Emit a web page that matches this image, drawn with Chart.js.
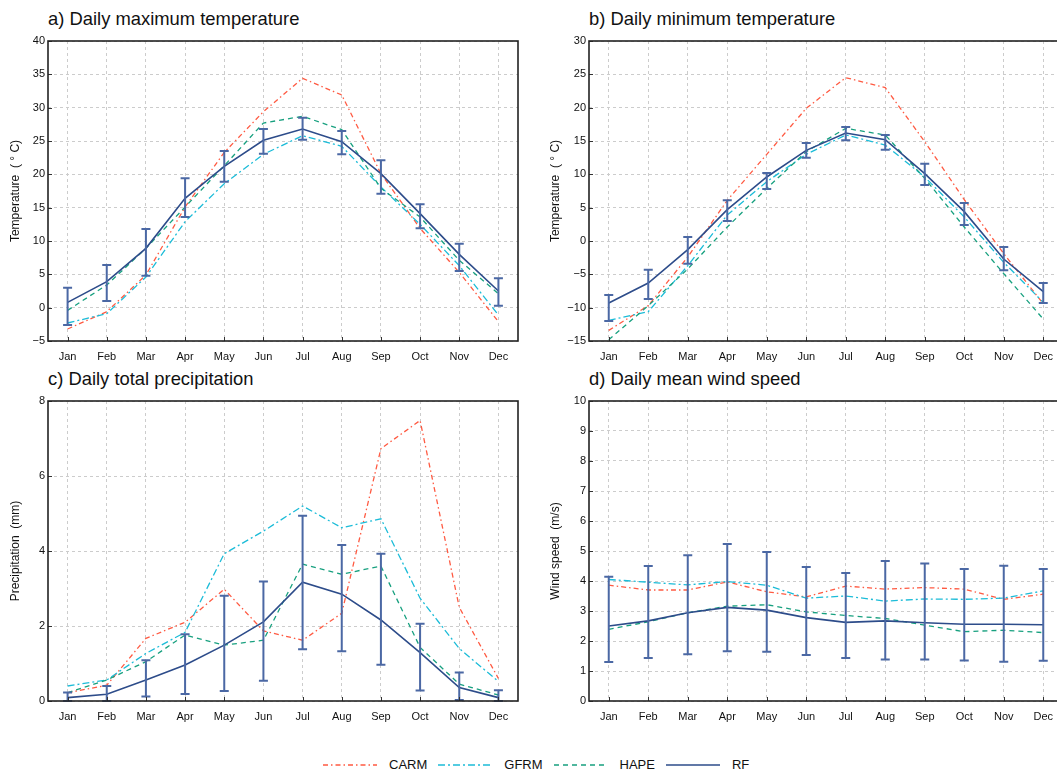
<!DOCTYPE html>
<html>
<head>
<meta charset="utf-8">
<script src="https://cdn.jsdelivr.net/npm/chart.js@4/dist/chart.umd.min.js"></script>
<style>
  body { margin: 0; background: #fff; overflow: hidden; width: 1057px; height: 772px; position: relative;
         font-family: "Liberation Sans", Arial, sans-serif; color: #111; }
  canvas { position: absolute; }
  .ttl { position: absolute; font-size: 18.4px; line-height: 20px; white-space: nowrap; }
  #legend { position: absolute; left: 323px; top: 757px; display: flex; align-items: center; font-size: 13px; }
  #legend .it { display: flex; align-items: center; margin-right: 11px; }
  #legend svg { margin-right: 12px; }
</style>
</head>
<body>
<div class="ttl" style="left:48px;top:9px">a) Daily maximum temperature</div>
<div class="ttl" style="left:589px;top:9px">b) Daily minimum temperature</div>
<div class="ttl" style="left:48px;top:369px">c) Daily total precipitation</div>
<div class="ttl" style="left:589px;top:369px">d) Daily mean wind speed</div>
<canvas id="cA" width="530" height="370" style="left:0;top:0"></canvas>
<canvas id="cB" width="537" height="370" style="left:530px;top:0"></canvas>
<canvas id="cC" width="530" height="360" style="left:0;top:370px"></canvas>
<canvas id="cD" width="537" height="360" style="left:530px;top:370px"></canvas>
<div id="legend"></div>
<script>
const months = ['Jan', 'Feb', 'Mar', 'Apr', 'May', 'Jun', 'Jul', 'Aug', 'Sep', 'Oct', 'Nov', 'Dec'];

// a) daily maximum temperature
const tmaxCARM = [-3.2, -0.6, 4.9, 15.1, 23.3, 29.4, 34.4, 31.9, 20.1, 11.9, 5.3, -2.1];
const tmaxGFRM = [-2.3, -0.9, 4.6, 12.9, 18.6, 23.0, 25.8, 24.2, 18.1, 12.5, 6.3, -1.1];
const tmaxHAPE = [-0.4, 3.4, 8.9, 15.1, 21.3, 27.7, 28.7, 26.7, 17.9, 13.6, 7.1, 2.1];
const tmaxRF   = [0.8, 3.9, 8.9, 16.4, 21.2, 25.1, 26.8, 24.9, 20.1, 14.1, 8.0, 2.5];
const tmaxRFlo = [-2.6, 1.0, 4.8, 13.6, 18.9, 23.1, 25.2, 23.0, 17.1, 11.9, 5.5, 0.3];
const tmaxRFhi = [3.0, 6.4, 11.8, 19.4, 23.5, 26.8, 28.5, 26.5, 22.1, 15.5, 9.6, 4.4];

// b) daily minimum temperature
const tminCARM = [-13.4, -9.7, -2.4, 6.1, 13.0, 19.9, 24.5, 23.0, 14.9, 6.2, -1.9, -9.4];
const tminGFRM = [-11.9, -10.6, -3.7, 3.9, 8.9, 13.0, 15.9, 14.4, 9.6, 3.6, -3.2, -9.2];
const tminHAPE = [-14.8, -9.7, -4.2, 2.1, 7.9, 13.4, 16.9, 15.9, 9.4, 2.1, -4.9, -11.7];
const tminRF   = [-9.3, -6.3, -1.3, 4.7, 9.6, 13.6, 16.2, 15.2, 10.1, 4.4, -2.7, -7.6];
const tminRFlo = [-12.0, -8.7, -3.4, 3.0, 7.8, 12.5, 15.1, 13.7, 8.4, 2.4, -4.4, -9.3];
const tminRFhi = [-8.1, -4.3, 0.6, 6.1, 10.2, 14.7, 17.1, 15.9, 11.6, 5.7, -0.9, -6.3];

// c) daily total precipitation
const precCARM = [0.22, 0.42, 1.67, 2.1, 2.98, 1.87, 1.62, 2.34, 6.73, 7.48, 2.5, 0.6];
const precGFRM = [0.4, 0.56, 1.27, 1.83, 3.93, 4.53, 5.2, 4.62, 4.86, 2.74, 1.4, 0.52];
const precHAPE = [0.22, 0.56, 1.05, 1.76, 1.49, 1.62, 3.65, 3.38, 3.6, 1.43, 0.45, 0.16];
const precRF   = [0.09, 0.18, 0.56, 0.96, 1.49, 2.11, 3.17, 2.85, 2.16, 1.29, 0.36, 0.09];
const precRFlo = [0.0, 0.0, 0.12, 0.19, 0.27, 0.54, 1.38, 1.33, 0.97, 0.28, 0.03, 0.0];
const precRFhi = [0.23, 0.4, 1.09, 1.78, 2.81, 3.19, 4.94, 4.16, 3.93, 2.06, 0.76, 0.29];

// d) daily mean wind speed
const windCARM = [3.86, 3.7, 3.7, 3.97, 3.64, 3.47, 3.83, 3.73, 3.78, 3.73, 3.39, 3.56];
const windGFRM = [4.05, 3.96, 3.87, 3.98, 3.86, 3.43, 3.5, 3.33, 3.4, 3.39, 3.43, 3.67];
const windHAPE = [2.39, 2.64, 2.94, 3.16, 3.21, 2.97, 2.85, 2.75, 2.53, 2.31, 2.36, 2.28];
const windRF   = [2.5, 2.67, 2.94, 3.12, 3.03, 2.78, 2.62, 2.67, 2.61, 2.56, 2.56, 2.54];
const windRFlo = [1.3, 1.43, 1.56, 1.66, 1.64, 1.53, 1.43, 1.38, 1.38, 1.35, 1.31, 1.34];
const windRFhi = [4.14, 4.5, 4.86, 5.23, 4.97, 4.47, 4.27, 4.67, 4.58, 4.4, 4.51, 4.4];

const models = [
  { name: 'CARM', color: '#ff5a42', dash: [5, 3, 1.5, 3], width: 1.3 },
  { name: 'GFRM', color: '#1cbcd8', dash: [7, 3, 2, 3], width: 1.3 },
  { name: 'HAPE', color: '#17a07f', dash: [5, 4], width: 1.3 },
  { name: 'RF',   color: '#2d4c8a', dash: [], width: 1.6 }
];
const errColor = '#4b68a4';

Chart.defaults.font.family = '"Liberation Sans", Arial, sans-serif';
Chart.defaults.font.size = 11;
Chart.defaults.color = '#111';

// box around the plot area, inner ticks and RF error bars
const framePlugin = {
  id: 'frame',
  afterDatasetsDraw(chart, args, opts) {
    const { ctx, chartArea: a, scales: { x, y } } = chart;
    ctx.save();
    // error bars
    ctx.strokeStyle = errColor;
    ctx.lineWidth = 2;
    opts.lo.forEach((lo, i) => {
      const px = x.getPixelForValue(i);
      const y1 = y.getPixelForValue(lo), y2 = y.getPixelForValue(opts.hi[i]);
      ctx.beginPath();
      ctx.moveTo(px, y1); ctx.lineTo(px, y2);
      ctx.moveTo(px - 4.5, y1); ctx.lineTo(px + 4.5, y1);
      ctx.moveTo(px - 4.5, y2); ctx.lineTo(px + 4.5, y2);
      ctx.stroke();
    });
    // inner ticks
    ctx.strokeStyle = '#333';
    ctx.lineWidth = 1;
    ctx.beginPath();
    months.forEach((m, i) => {
      const px = Math.round(x.getPixelForValue(i)) + 0.5;
      ctx.moveTo(px, a.bottom); ctx.lineTo(px, a.bottom - 4);
    });
    y.ticks.forEach(t => {
      const py = Math.round(y.getPixelForValue(t.value)) + 0.5;
      ctx.moveTo(a.left, py); ctx.lineTo(a.left + 4, py);
    });
    ctx.stroke();
    // box
    ctx.strokeStyle = '#222';
    ctx.lineWidth = 1.6;
    ctx.strokeRect(a.left, a.top, a.right - a.left, a.bottom - a.top);
    ctx.restore();
  }
};

function makePanel(id, series, lo, hi, yMin, yMax, yStep, yTitle, pad, yWidth, titlePad) {
  return new Chart(document.getElementById(id), {
    type: 'line',
    data: {
      labels: months,
      datasets: models.map((m, k) => ({
        label: m.name,
        data: series[k],
        borderColor: m.color,
        borderWidth: m.width,
        borderDash: m.dash,
        pointRadius: 0,
        tension: 0,
        fill: false,
        order: 3 - k
      }))
    },
    options: {
      responsive: false,
      animation: false,
      layout: { padding: pad },
      plugins: {
        legend: { display: false },
        tooltip: { enabled: false },
        frame: { lo: lo, hi: hi }
      },
      scales: {
        x: {
          offset: true,
          grid: { color: '#cccccc', drawTicks: false, offset: false },
          border: { display: false, dash: [3, 3] },
          ticks: { padding: 9, maxRotation: 0 },
          afterFit: s => { s.height = 29; }
        },
        y: {
          min: yMin, max: yMax,
          grid: { color: '#cccccc', drawTicks: false },
          border: { display: false, dash: [3, 3] },
          ticks: { stepSize: yStep, padding: 3, callback: v => String(v).replace('-', '\u2212') },
          title: { display: true, text: yTitle, font: { size: 12 }, padding: { top: titlePad, bottom: 0 } },
          afterFit: s => { s.width = yWidth; }
        }
      }
    },
    plugins: [framePlugin]
  });
}

makePanel('cA', [tmaxCARM, tmaxGFRM, tmaxHAPE, tmaxRF], tmaxRFlo, tmaxRFhi, -5, 40, 5,
  'Temperature  ( \u00b0 C)', { top: 41, right: 12, left: 0, bottom: 0 }, 48, 8);
makePanel('cB', [tminCARM, tminGFRM, tminHAPE, tminRF], tminRFlo, tminRFhi, -15, 30, 5,
  'Temperature  ( \u00b0 C)', { top: 41, right: 4, left: 0, bottom: 0 }, 59, 18);
makePanel('cC', [precCARM, precGFRM, precHAPE, precRF], precRFlo, precRFhi, 0, 8, 2,
  'Precipitation  (mm)', { top: 31, right: 12, left: 0, bottom: 0 }, 48, 8);
makePanel('cD', [windCARM, windGFRM, windHAPE, windRF], windRFlo, windRFhi, 0, 10, 1,
  'Wind speed  (m/s)', { top: 31, right: 4, left: 0, bottom: 0 }, 59, 18);

// legend below the panels
const legend = document.getElementById('legend');
models.forEach(m => {
  const it = document.createElement('div');
  it.className = 'it';
  it.innerHTML = '<svg width="54" height="6"><line x1="0" y1="3" x2="54" y2="3" stroke="' + m.color +
    '" stroke-width="' + m.width + '" stroke-dasharray="' + (m.dash.length ? m.dash.join(' ') : 'none') +
    '"/></svg><span>' + m.name + '</span>';
  legend.appendChild(it);
});
</script>
</body>
</html>
